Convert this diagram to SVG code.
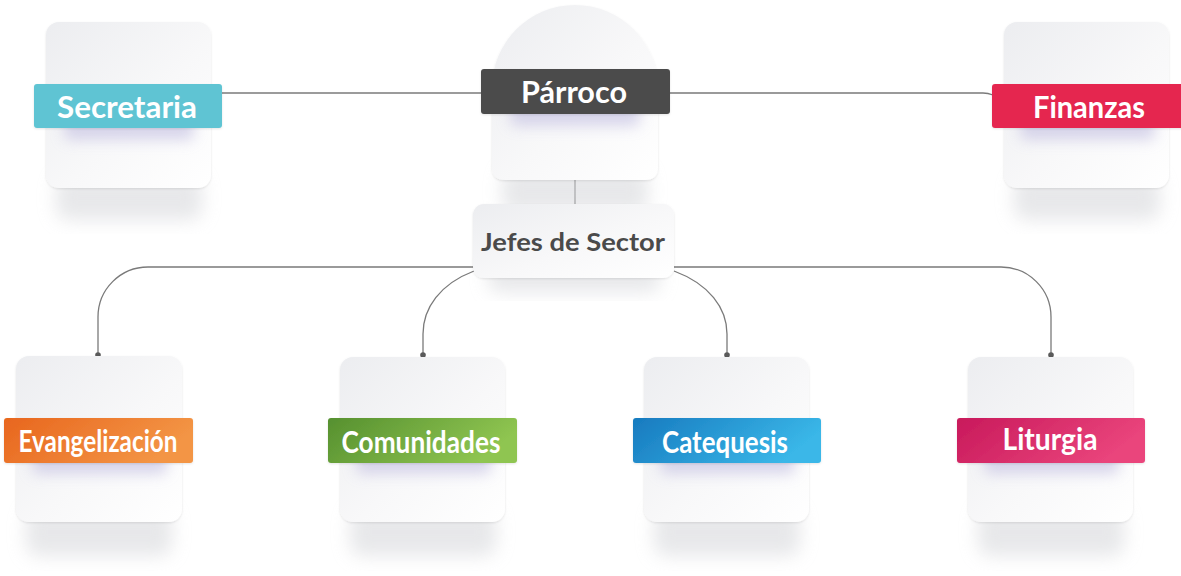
<svg xmlns="http://www.w3.org/2000/svg" width="1181" height="576" viewBox="0 0 1181 576">
  <defs>
    <linearGradient id="cardFill" x1="0" y1="0" x2="1" y2="1">
      <stop offset="0" stop-color="#ECEDF0"/>
      <stop offset="0.55" stop-color="#F8F8F9"/>
      <stop offset="1" stop-color="#FFFFFF"/>
    </linearGradient>
    <linearGradient id="gOrange" x1="0" y1="0" x2="1" y2="0.3">
      <stop offset="0" stop-color="#E8661E"/>
      <stop offset="1" stop-color="#F39545"/>
    </linearGradient>
    <linearGradient id="gGreen" x1="0" y1="0" x2="1" y2="0.3">
      <stop offset="0" stop-color="#56902F"/>
      <stop offset="1" stop-color="#8FC551"/>
    </linearGradient>
    <linearGradient id="gBlue" x1="0" y1="0" x2="1" y2="0.3">
      <stop offset="0" stop-color="#177ABF"/>
      <stop offset="1" stop-color="#3AB7E8"/>
    </linearGradient>
    <linearGradient id="gPink" x1="0" y1="0" x2="1" y2="0.3">
      <stop offset="0" stop-color="#C8195B"/>
      <stop offset="1" stop-color="#EA457C"/>
    </linearGradient>
    <filter id="cardShadow" x="-30%" y="-30%" width="160%" height="160%">
      <feGaussianBlur stdDeviation="9"/>
    </filter>
    <filter id="bandShadow" x="-30%" y="-60%" width="160%" height="220%">
      <feGaussianBlur stdDeviation="7"/>
    </filter>
    <filter id="edge" x="-5%" y="-5%" width="110%" height="110%">
      <feDropShadow dx="0" dy="1" stdDeviation="0.8" flood-color="#000" flood-opacity="0.10"/>
    </filter>
  </defs>
  <style>
    .card { fill: url(#cardFill); filter: url(#edge); }
    .cshadow { fill: #D4D5D9; opacity: 0.55; filter: url(#cardShadow); }
    .bshadow { fill: #C9C6E4; opacity: 0.7; filter: url(#bandShadow); }
    .band { filter: url(#edge); }
    .label { font-family: "Lato", "Liberation Sans", sans-serif; font-weight: 700; fill: #FFFFFF; text-anchor: middle; }
    .dark { font-family: "Lato", "Liberation Sans", sans-serif; font-weight: 700; fill: #4A4A4A; text-anchor: middle; }
    .link { fill: none; stroke: #7A7A7A; stroke-width: 1.3; }
    .dot { fill: #5A5A5A; }
  </style>

  <rect width="1181" height="576" fill="#FFFFFF"/>

  <!-- connectors -->
  <g id="connectors">
    <path class="link" d="M222,93 H482"/>
    <path class="link" d="M670,93 H983 Q988,93 993,95"/>
    <path class="link" d="M575,180 V206"/>
    <path class="link" d="M474,267 H148 A50,50 0 0 0 98,317 V355"/>
    <path class="link" d="M674,267 H1001 A50,50 0 0 1 1051,317 V355"/>
    <path class="link" d="M474,271 C440,284 423,308 423,334 V355"/>
    <path class="link" d="M674,271 C709,284 727,308 727,334 V355"/>
    <circle class="dot" cx="98" cy="355" r="2.8"/>
    <circle class="dot" cx="423" cy="355" r="2.8"/>
    <circle class="dot" cx="727" cy="355" r="2.8"/>
    <circle class="dot" cx="1051" cy="355" r="2.8"/>
  </g>

  <!-- Secretaria -->
  <g id="secretaria">
    <rect class="cshadow" x="56" y="175" width="146" height="45" rx="12"/>
    <rect class="card" x="46" y="22" width="165" height="166" rx="13"/>
    <rect class="bshadow" x="64" y="112" width="130" height="28" rx="6"/>
    <rect class="band" x="34" y="84" width="188" height="44" rx="3" fill="#5FC4D3"/>
    <text class="label" x="127" y="118" font-size="30" textLength="140" lengthAdjust="spacingAndGlyphs">Secretaria</text>
  </g>

  <!-- Párroco -->
  <g id="parroco">
    <rect class="cshadow" x="502" y="168" width="146" height="45" rx="12"/>
    <path class="card" d="M492,88 A83,83 0 0 1 658,88 V167 Q658,180 645,180 H505 Q492,180 492,167 Z"/>
    <rect class="bshadow" x="510" y="98" width="130" height="28" rx="6"/>
    <rect class="band" x="481" y="69" width="189" height="45" rx="3" fill="#4B4B4B"/>
    <text class="label" x="574" y="103" font-size="30" textLength="106" lengthAdjust="spacingAndGlyphs">Párroco</text>
  </g>

  <!-- Finanzas -->
  <g id="finanzas">
    <rect class="cshadow" x="1014" y="175" width="146" height="45" rx="12"/>
    <rect class="card" x="1004" y="22" width="165" height="166" rx="13"/>
    <rect class="bshadow" x="1020" y="112" width="135" height="28" rx="6"/>
    <rect class="band" x="992" y="84" width="192" height="44" rx="3" fill="#E5274F"/>
    <text class="label" x="1089" y="118" font-size="30" textLength="112" lengthAdjust="spacingAndGlyphs">Finanzas</text>
  </g>

  <!-- Jefes de Sector -->
  <g id="jefes">
    <rect class="cshadow" x="488" y="262" width="172" height="30" rx="10"/>
    <rect class="card" x="473" y="204" width="201" height="74" rx="11"/>
    <text class="dark" x="573" y="251" font-size="24" textLength="184" lengthAdjust="spacingAndGlyphs">Jefes de Sector</text>
  </g>

  <!-- Evangelización -->
  <g id="evangelizacion">
    <rect class="cshadow" x="26" y="508" width="146" height="48" rx="12"/>
    <rect class="card" x="16" y="356" width="166" height="166" rx="13"/>
    <rect class="bshadow" x="32" y="446" width="135" height="28" rx="6"/>
    <rect class="band" x="4" y="418" width="189" height="45" rx="3" fill="url(#gOrange)"/>
    <text class="label" x="98" y="452" font-size="30" textLength="159" lengthAdjust="spacingAndGlyphs">Evangelización</text>
  </g>

  <!-- Comunidades -->
  <g id="comunidades">
    <rect class="cshadow" x="350" y="508" width="146" height="48" rx="12"/>
    <rect class="card" x="340" y="357" width="165" height="165" rx="13"/>
    <rect class="bshadow" x="356" y="446" width="135" height="28" rx="6"/>
    <rect class="band" x="328" y="418" width="189" height="45" rx="3" fill="url(#gGreen)"/>
    <text class="label" x="421" y="453" font-size="30" textLength="159" lengthAdjust="spacingAndGlyphs">Comunidades</text>
  </g>

  <!-- Catequesis -->
  <g id="catequesis">
    <rect class="cshadow" x="654" y="508" width="146" height="48" rx="12"/>
    <rect class="card" x="644" y="357" width="165" height="165" rx="13"/>
    <rect class="bshadow" x="660" y="446" width="135" height="28" rx="6"/>
    <rect class="band" x="633" y="418" width="188" height="45" rx="3" fill="url(#gBlue)"/>
    <text class="label" x="725" y="453" font-size="30" textLength="126" lengthAdjust="spacingAndGlyphs">Catequesis</text>
  </g>

  <!-- Liturgia -->
  <g id="liturgia">
    <rect class="cshadow" x="978" y="508" width="146" height="48" rx="12"/>
    <rect class="card" x="968" y="357" width="165" height="165" rx="13"/>
    <rect class="bshadow" x="984" y="446" width="135" height="28" rx="6"/>
    <rect class="band" x="957" y="418" width="188" height="45" rx="3" fill="url(#gPink)"/>
    <text class="label" x="1050" y="450" font-size="30" textLength="95" lengthAdjust="spacingAndGlyphs">Liturgia</text>
  </g>
</svg>
